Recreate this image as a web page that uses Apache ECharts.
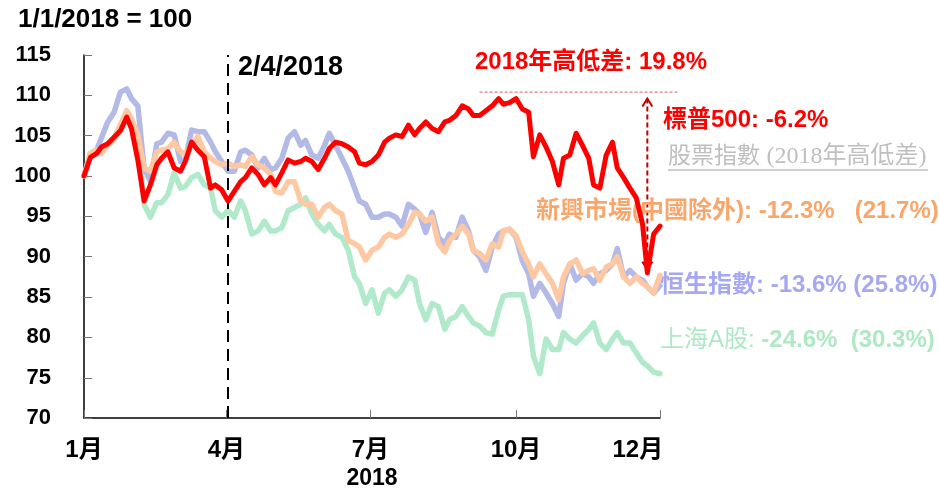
<!DOCTYPE html>
<html>
<head>
<meta charset="utf-8">
<script src="https://cdn.jsdelivr.net/npm/echarts@6/dist/echarts.min.js"></script>
<style>html,body{margin:0;padding:0;background:#fff;}#c{width:939px;height:495px;}</style>
</head>
<body>
<div id="c"></div>
<script>
// day offset from 1 Jan 2018
const days = [0,4,8,11,15,19,23,27,30,34,38,42,46,49,53,57,61,64,68,72,76,80,83,87,91,95,99,102,106,110,114,118,121,125,129,133,137,140,144,148,152,155,159,163,167,171,174,178,182,186,190,193,197,201,205,209,212,216,220,224,228,231,235,239,243,246,250,254,258,262,265,269,273,277,281,284,288,292,296,300,303,307,311,315,319,322,326,330,334,337,341,345,349,353,356,360,364];

const spx = [100,102.3,102.8,103.6,104.0,104.8,105.6,107.3,105.9,102.0,
 96.9,98.9,101.4,102.2,103.0,101.0,100.6,101.8,104.2,103.2,
 102.4,98.5,98.9,98.3,96.9,
 98.1,99.3,99.8,101.0,100.2,98.9,99.8,98.9,100.4,102.0,
 101.6,101.8,102.2,101.8,100.8,102.2,103.4,104.2,104.0,103.6,
 103.0,101.6,101.4,101.8,
 102.6,104.2,104.7,105.1,104.9,106.3,105.1,105.9,106.7,105.9,
 105.5,106.7,106.9,107.5,108.7,108.3,107.5,107.5,108.1,108.7,
 109.6,108.9,109.1,109.6,108.3,
 107.9,102.4,105.1,103.6,101.8,98.9,102.2,102.6,105.3,103.8,
 102.2,98.9,98.5,102.6,104.2,101.0,99.8,98.5,97.3,94.0,
 88.0,92.8,93.8];

const hsi = [100,102.8,103.2,104.7,106.7,107.9,110.4,110.8,109.6,108.7,
 101.0,99.3,104.0,104.2,105.3,105.1,101.8,102.0,105.7,105.5,
 105.5,104.2,103.0,101.8,100.6,
 100.6,103.0,103.2,102.6,101.0,102.2,100.8,101.0,102.2,104.7,
 105.5,103.8,104.4,102.6,102.2,103.8,105.3,103.8,102.2,100.6,
 98.5,96.9,96.5,94.9,
 94.9,95.3,95.3,94.9,93.8,96.5,95.9,95.3,93.0,95.5,
 92.4,91.6,92.8,92.4,94.9,93.2,90.8,90.0,88.3,91.2,
 92.8,93.2,93.4,92.4,89.5,
 87.9,85.1,86.7,85.5,84.2,82.6,86.7,89.1,87.1,87.9,
 87.5,86.7,87.9,88.3,89.1,91.0,87.5,88.3,87.5,87.1,
 86.3,85.5,86.4];

const em = [100,102.8,103.2,102.8,104.0,104.7,106.3,108.1,107.1,105.1,
 101.0,100.6,103.0,103.2,103.4,104.2,103.0,102.8,103.8,104.9,
 103.0,102.2,101.8,101.4,101.6,
 101.2,101.4,101.2,102.4,101.4,101.0,100.2,98.1,97.9,99.3,
 99.3,96.9,96.5,96.5,94.9,96.1,96.5,95.7,95.3,92.0,
 91.6,91.2,89.6,90.8,
 91.2,92.4,92.8,92.4,92.8,94.0,95.5,95.3,94.4,94.9,
 91.6,90.6,92.0,92.8,93.8,92.8,90.8,90.4,89.6,91.6,
 91.2,93.2,93.4,92.6,90.6,
 89.1,87.5,89.1,87.9,86.7,84.7,87.5,89.1,89.6,87.9,
 88.3,88.5,87.1,88.7,89.1,90.0,87.5,86.7,87.5,86.7,
 86.3,85.5,87.7];

const sha = [100,102.4,102.8,103.2,103.8,104.4,106.3,107.5,105.9,105.3,
 96.5,94.9,96.7,96.7,97.7,100.4,98.5,98.7,99.8,100.2,
 98.9,98.5,95.7,94.9,95.7,
 94.9,96.9,95.7,92.8,93.2,94.4,93.2,93.2,93.6,95.7,
 96.1,96.5,97.3,95.3,94.0,93.2,94.0,92.8,92.4,90.8,
 87.5,86.7,84.2,85.9,
 83.0,85.5,85.9,85.1,85.9,87.5,87.1,84.2,82.2,84.2,
 83.8,81.0,82.2,82.6,83.8,82.6,81.8,81.4,80.6,80.4,
 83.4,85.1,85.3,85.3,85.3,
 82.2,77.7,75.5,79.8,78.5,78.5,80.6,79.8,79.3,80.2,
 81.0,81.8,79.3,78.5,79.8,80.6,79.3,79.3,78.1,76.9,
 76.5,75.7,75.5];

const tickDays = [0, 90, 181, 273, 364];
const labelDays = [0, 90, 181, 273, 350];
const xTickLabels = ['1月', '4月', '7月', '10月', '12月'];
const markerDay = 91;          // 2 April 2018
const spxHigh = 109.6, spxLow = 88.4, arrowDay = 356;

const SANS = "'Liberation Sans', 'Noto Sans CJK TC', sans-serif";
const SERIF = "'Liberation Serif', 'Noto Sans CJK TC', serif";

const chart = echarts.init(document.getElementById('c'), null, {renderer: 'canvas'});
const pair = arr => days.map((d, i) => [d, arr[i]]);
const lineSeries = (name, arr, color, width, z) => ({
  name, type: 'line', data: pair(arr), showSymbol: false, z,
  lineStyle: {color, width, join: 'round', cap: 'round'},
  itemStyle: {color}, emphasis: {disabled: true}
});

const option = {
  animation: false,
  grid: {left: 84, right: 279, top: 55, bottom: 72},
  xAxis: {
    type: 'value', min: 0, max: 364,
    axisLine: {lineStyle: {color: '#000', width: 1.5}},
    axisTick: {inside: true, length: 8, customValues: tickDays, lineStyle: {color: '#777', width: 1}},
    axisLabel: {customValues: labelDays, formatter: v => xTickLabels[labelDays.indexOf(v)],
      fontFamily: SANS, fontWeight: 'bold', fontSize: 24, color: '#000', margin: 20},
    splitLine: {show: false},
    name: '2018', nameLocation: 'middle', nameGap: 46,
    nameTextStyle: {fontFamily: SANS, fontWeight: 'bold', fontSize: 23, color: '#000'}
  },
  yAxis: {
    type: 'value', min: 70, max: 115, interval: 5,
    axisLine: {show: true, lineStyle: {color: '#000', width: 1.5}},
    axisTick: {show: true, inside: true, length: 8, lineStyle: {color: '#777', width: 1}},
    axisLabel: {fontFamily: SANS, fontWeight: 'bold', fontSize: 22, color: '#000', margin: 33},
    splitLine: {show: false}
  },
  series: [
    lineSeries('上海A股', sha, '#b0eacb', 5.5, 2),
    lineSeries('恒生指數', hsi, '#b3bae8', 5.5, 3),
    lineSeries('新興市場(中國除外)', em, '#fdc8a2', 5.5, 4),
    Object.assign(lineSeries('標普500', spx, '#ff0000', 5, 5), {
      markLine: {silent: true, symbol: ['none', 'none'], label: {show: false},
        lineStyle: {color: '#000', type: [12, 7], width: 2},
        data: [{xAxis: markerDay}]}
    })
  ]
};
chart.setOption(option);

const px = (d, v) => chart.convertToPixel({gridIndex: 0}, [d, v]);
const arTop = px(arrowDay, spxHigh), arBot = px(arrowDay, spxLow);
const hs = px(250, 110.4), he = px(375, 110.4);
const AR = '#c00000';

const graphics = [
  {type: 'text', style: {text: '1/1/2018 = 100', x: 18, y: 20, textVerticalAlign: 'middle',
    font: "bold 26px " + SANS, fill: '#000'}},
  {type: 'text', style: {text: '2/4/2018', x: 238, y: 68, textVerticalAlign: 'middle',
    font: "bold 27px " + SANS, fill: '#000'}},
  {type: 'text', style: {text: '2018年高低差: 19.8%', x: 591, y: 62, textAlign: 'center', textVerticalAlign: 'middle',
    font: "bold 24px " + SANS, fill: '#ff0000'}},
  {type: 'line', shape: {x1: hs[0], y1: hs[1], x2: he[0], y2: he[1]},
    style: {stroke: '#d06060', lineWidth: 1, lineDash: [3, 2]}},
  {type: 'line', shape: {x1: arTop[0], y1: arTop[1], x2: arBot[0], y2: arBot[1]},
    style: {stroke: AR, lineWidth: 2, lineDash: [5, 3]}},
  {type: 'polyline', shape: {points: [[arTop[0] - 5, arTop[1] + 8], [arTop[0], arTop[1]], [arTop[0] + 5, arTop[1] + 8]]},
    style: {stroke: AR, lineWidth: 2, fill: null}},
  {type: 'polyline', shape: {points: [[arBot[0] - 5, arBot[1] - 8], [arBot[0], arBot[1]], [arBot[0] + 5, arBot[1] - 8]]},
    style: {stroke: AR, lineWidth: 2, fill: null}},
  {type: 'text', style: {text: '標普500: -6.2%', x: 663, y: 120, textVerticalAlign: 'middle',
    font: "bold 24px " + SANS, fill: '#ff0000'}},
  {type: 'text', style: {text: '{a|股票指數 }{b|(2018年高低差)}', x: 668, y: 157, textVerticalAlign: 'middle',
    rich: {a: {fontFamily: SANS, fontSize: 23, fill: '#bfbfbf', color: '#bfbfbf'},
           b: {fontFamily: SERIF, fontSize: 24, fill: '#bfbfbf', color: '#bfbfbf'}}}},
  {type: 'line', shape: {x1: 668, y1: 170, x2: 928, y2: 170}, style: {stroke: '#bfbfbf', lineWidth: 1.5}},
  {type: 'text', style: {text: '{a|新興市場(中國除外): -12.3%}{a|   }{b|(21.7%)}', x: 536, y: 211, textVerticalAlign: 'middle',
    rich: {a: {fontFamily: SANS, fontSize: 24, fontWeight: 'bold', color: '#f8a66c', fill: '#f8a66c'},
           b: {fontFamily: SANS, fontSize: 24, fontWeight: 'bold', color: '#f8a66c', fill: '#f8a66c'}}}},
  {type: 'text', style: {text: '恒生指數: -13.6% (25.8%)', x: 660, y: 285, textVerticalAlign: 'middle',
    font: "bold 24px " + SANS, fill: '#a6a8f2'}},
  {type: 'text', style: {text: '{a|上海A股: }{b|-24.6%  (30.3%)}', x: 660, y: 340, textVerticalAlign: 'middle',
    rich: {a: {fontFamily: SANS, fontSize: 24, fontWeight: 'normal', color: '#aee8c4', fill: '#aee8c4'},
           b: {fontFamily: SANS, fontSize: 24, fontWeight: 'bold', color: '#aee8c4', fill: '#aee8c4'}}}}
];
chart.setOption({graphic: graphics});
</script>
</body>
</html>
